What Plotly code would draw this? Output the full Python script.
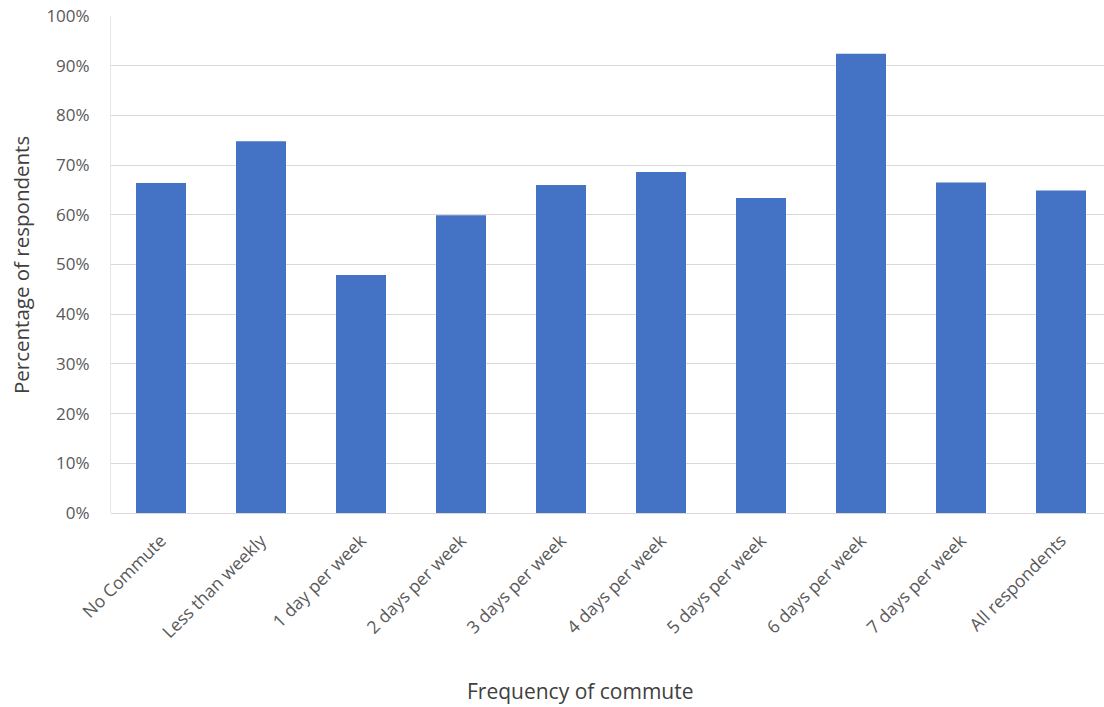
import plotly.graph_objects as go

categories = ["No Commute", "Less than weekly", "1 day per week", "2 days per week",
              "3 days per week", "4 days per week", "5 days per week", "6 days per week",
              "7 days per week", "All respondents"]
percentages = [0.664, 0.748, 0.479, 0.599, 0.660, 0.686, 0.634, 0.924, 0.665, 0.649]
y_ticks = [0, 0.1, 0.2, 0.3, 0.4, 0.5, 0.6, 0.7, 0.8, 0.9, 1.0]
y_tick_labels = ["0%", "10%", "20%", "30%", "40%", "50%", "60%", "70%", "80%", "90%", "100%"]

font_family = "'Open Sans', sans-serif"

W, H = 1104, 707
L, R, T = 111, 0, 16
B = H - 513
plot_w = W - L - R
plot_h = H - T - B

fig = go.Figure(go.Bar(
    x=list(range(len(categories))),
    y=percentages,
    marker=dict(color="#4472C4", line=dict(width=0)),
    width=0.5,
))

fig.update_layout(
    width=W, height=H,
    margin=dict(l=L, r=R, t=T, b=B, autoexpand=False),
    paper_bgcolor="white", plot_bgcolor="white",
    showlegend=False,
    font=dict(family=font_family, color="#595959", size=17),
    xaxis=dict(
        tickmode="array",
        tickvals=list(range(len(categories))),
        ticktext=categories,
        tickangle=-45,
        range=[-0.5, 9.43],
        showgrid=False,
        showline=False,
        ticks="",
        automargin=False,
        ticklabelstandoff=13,
        tickfont=dict(size=17.5, color="#595959"),
        zeroline=False,
    ),
    yaxis=dict(
        range=[0, 1.0],
        tickvals=y_ticks,
        ticktext=y_tick_labels,
        showgrid=True,
        gridcolor="#d9d9d9",
        gridwidth=1,
        zeroline=True,
        zerolinecolor="#d9d9d9",
        zerolinewidth=1,
        showline=True,
        linecolor="#e6e6e6",
        ticks="",
        automargin=False,
        ticklabeloverflow="allow",
        ticklabelstandoff=17,
        tickfont=dict(size=17, color="#595959"),
    ),
    annotations=[
        dict(
            text="Frequency of commute",
            x=(580 - L) / plot_w, y=(513 - 691) / plot_h,
            xref="paper", yref="paper", xanchor="center", yanchor="middle",
            showarrow=False, font=dict(size=21, color="#404040"),
        ),
        dict(
            text="Percentage of respondents", textangle=-90,
            x=(21 - L) / plot_w, y=(513 - 265) / plot_h,
            xref="paper", yref="paper", xanchor="center", yanchor="middle",
            showarrow=False, font=dict(size=20.5, color="#404040"),
        ),
    ],
)

fig.write_html(
    "out.html",
    config={"displayModeBar": False},
    post_script="document.body.style.margin='0';document.body.style.overflow='hidden';",
)
